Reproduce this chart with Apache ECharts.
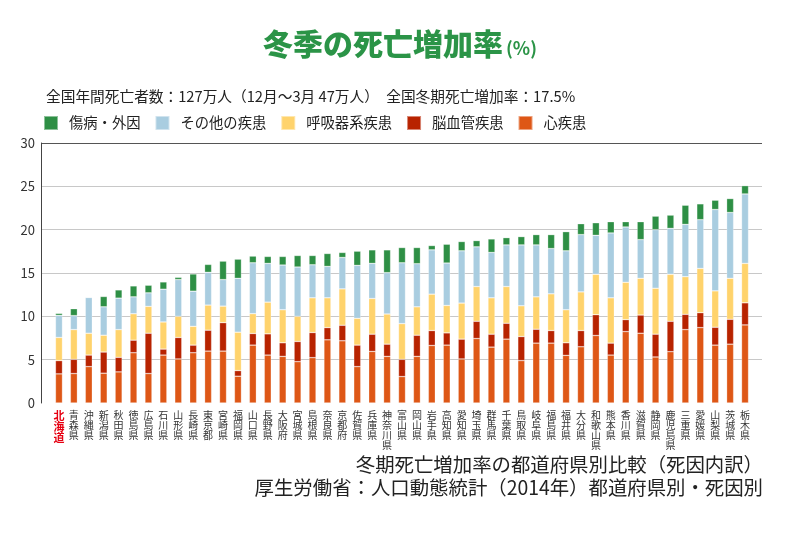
<!DOCTYPE html>
<html>
<head>
<meta charset="utf-8">
<script src="https://cdn.jsdelivr.net/npm/echarts@6/dist/echarts.min.js"></script>
<style>
html,body{margin:0;padding:0;background:#fff;}
#chart{width:800px;height:534px;}
</style>
</head>
<body>
<div id="chart"></div>
<script>
const prefectures = ['北海道','青森県','沖縄県','新潟県','秋田県','徳島県','広島県','石川県','山形県','長崎県','東京都','宮崎県','福岡県','山口県','長野県','大阪府','宮城県','島根県','奈良県','京都府','佐賀県','兵庫県','神奈川県','富山県','岡山県','岩手県','高知県','愛知県','埼玉県','群馬県','千葉県','鳥取県','岐阜県','福島県','福井県','大分県','和歌山県','熊本県','香川県','滋賀県','静岡県','鹿児島県','三重県','愛媛県','山梨県','茨城県','栃木県'];

// 心疾患
const heart = [3.36,3.40,4.20,3.44,3.59,5.80,3.40,5.53,5.08,5.80,5.99,5.99,3.09,6.68,5.53,5.38,4.77,5.23,7.29,7.18,4.20,5.95,5.38,3.05,5.38,6.64,6.68,5.08,7.44,6.45,7.37,4.89,6.91,6.91,5.50,6.49,7.79,5.53,8.24,8.05,5.31,5.92,8.47,8.70,6.68,6.79,9.01];
// 脳血管疾患
const cerebro = [1.53,1.64,1.33,2.44,1.68,1.45,4.65,0.69,2.48,0.88,2.41,3.28,0.65,1.34,2.45,1.57,2.33,2.90,1.41,1.79,2.48,1.99,1.41,1.99,2.44,1.72,1.41,2.29,1.99,1.49,1.83,2.78,1.60,1.45,1.45,1.87,2.40,1.38,1.38,2.10,2.63,3.51,1.76,1.72,2.06,2.87,2.55];
// 呼吸器系疾患
const respiratory = [2.67,3.43,2.52,1.94,3.20,3.05,3.10,3.13,2.44,2.17,2.90,1.91,4.43,2.29,3.66,3.81,2.90,4.01,3.44,4.20,3.09,4.12,3.48,4.12,3.28,4.20,3.17,4.16,4.01,4.20,4.24,3.55,3.74,4.24,3.81,4.46,4.66,5.23,4.31,4.24,5.30,5.42,4.35,5.11,4.20,4.73,4.55];
// その他の疾患
const other = [2.55,1.61,4.13,3.28,3.63,1.95,1.56,3.78,4.24,4.05,3.78,3.06,6.22,5.87,4.47,5.16,5.69,3.81,3.62,3.62,6.11,4.05,4.77,7.02,4.97,5.11,4.89,6.03,4.58,5.23,4.80,7.02,5.99,5.22,6.80,6.61,4.50,7.48,6.38,4.46,6.76,5.30,6.03,5.62,9.39,7.59,8.01];
// 傷病・外因
const injury = [0.23,0.80,0.00,1.19,0.95,1.26,0.88,0.84,0.26,1.99,0.91,2.13,2.21,0.77,0.80,0.99,1.33,1.07,1.49,0.58,1.64,1.56,2.63,1.76,1.87,0.50,2.17,1.07,0.72,1.56,0.84,0.96,1.19,1.61,2.21,1.26,1.45,1.30,0.61,2.07,1.56,1.53,2.21,1.83,1.07,1.61,0.96];

const seriesNames = ['心疾患','脳血管疾患','呼吸器系疾患','その他の疾患','傷病・外因'];
const legendOrder = ['傷病・外因','その他の疾患','呼吸器系疾患','脳血管疾患','心疾患'];
const yMin = 0, yMax = 30, yStep = 5;

const FONT = '"Noto Sans CJK JP", "Noto Sans", sans-serif';
const colors = {
  '心疾患':'#de5716',
  '脳血管疾患':'#b82300',
  '呼吸器系疾患':'#ffd36c',
  'その他の疾患':'#a9cde0',
  '傷病・外因':'#2e8f45'
};
const seriesData = [heart, cerebro, respiratory, other, injury];

const chart = echarts.init(document.getElementById('chart'), null, {renderer:'canvas'});

const noteStyle = {fontFamily:FONT, fontSize:19.4, fontWeight:'normal', color:'#222'};

const option = {
  backgroundColor:'#fff',
  animation:false,
  textStyle:{fontFamily:FONT},
  title:[
    {
      text:'冬季の死亡増加率{p|(%)}',
      left:'center', top:24,
      textStyle:{fontFamily:FONT, fontSize:30, fontWeight:900, color:'#2b9447',
        rich:{p:{fontFamily:FONT, fontSize:18, fontWeight:'bold', color:'#2b9447', verticalAlign:'bottom', padding:[0,0,2,3]}}}
    },
    {
      text:'全国年間死亡者数：127万人（12月〜3月 47万人）　全国冬期死亡増加率：17.5%',
      left:41, top:84,
      textStyle:{fontFamily:FONT, fontSize:14.7, fontWeight:'normal', color:'#222'}
    },
    {
      text:'冬期死亡増加率の都道府県別比較（死因内訳）',
      right:37, top:455, padding:0,
      textStyle:noteStyle
    },
    {
      text:'厚生労働省：人口動態統計（2014年）都道府県別・死因別',
      right:37, top:478, padding:0,
      textStyle:noteStyle
    }
  ],
  legend:{
    data:legendOrder,
    left:38, top:110,
    icon:'rect', itemWidth:14, itemHeight:14, itemGap:14,
    textStyle:{fontFamily:FONT, fontSize:14.3, color:'#222', padding:[0,0,0,6]}
  },
  grid:[
    {left:41, right:38, top:143, bottom:131},
    {left:51.5, right:47.5, top:143, bottom:131}
  ],
  xAxis:[
    {gridIndex:0, type:'category', data:prefectures, show:false},
    {gridIndex:1, type:'category', data:prefectures,
      axisLine:{show:false}, axisTick:{show:false},
      axisLabel:{
        interval:0, margin:7,
        fontFamily:FONT, fontSize:10, lineHeight:10, color:'#333',
        formatter:function(v, i){
          const chars = v.split('');
          if (i === 0) return chars.map(c => '{h|' + c + '}').join('\n');
          return chars.join('\n');
        },
        rich:{h:{fontFamily:FONT, fontSize:11, lineHeight:11, fontWeight:'bold', color:'#e60012'}}
      }
    }
  ],
  yAxis:[
    {gridIndex:0, type:'value', min:yMin, max:yMax, interval:yStep,
      axisLine:{show:true, lineStyle:{color:'#444', width:1}},
      axisTick:{show:false},
      axisLabel:{fontFamily:FONT, fontSize:13, color:'#333', margin:6},
      splitLine:{show:true, lineStyle:{width:1.2, color:['rgba(0,0,0,0)','#c8c8c8','#c8c8c8','#c8c8c8','#c8c8c8','#c8c8c8','#555']}}
    },
    {gridIndex:1, type:'value', min:yMin, max:yMax, interval:yStep, show:false, splitLine:{show:false}}
  ],
  series: seriesNames.map((name, k) => ({
    name:name, type:'bar', stack:'total',
    xAxisIndex:1, yAxisIndex:1,
    barWidth:7,
    data:seriesData[k],
    itemStyle:{color:colors[name], borderColor:'rgba(255,255,255,0.45)', borderWidth:0.6}
  }))
};
chart.setOption(option);
</script>
</body>
</html>
